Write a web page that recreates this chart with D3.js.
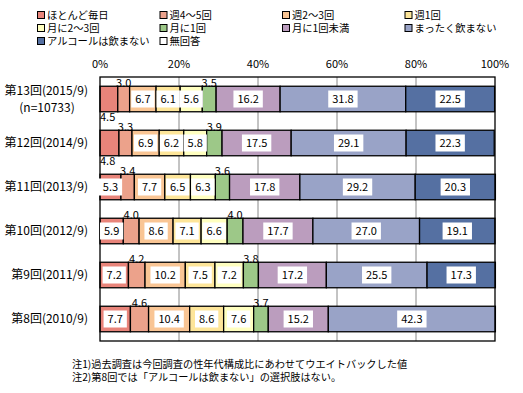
<!DOCTYPE html>
<html lang="ja">
<head>
<meta charset="UTF-8">
<title>飲酒頻度</title>
<script src="https://cdn.jsdelivr.net/npm/d3@7"></script>
<style>
  body { margin: 0; background: #fff; }
  text { font-family: "Noto Sans CJK JP", "Noto Sans", sans-serif; fill: #000; }
</style>
</head>
<body>
<script>
// rounds (rows, top to bottom)
var rounds = ["第13回(2015/9)", "第12回(2014/9)", "第11回(2013/9)", "第10回(2012/9)", "第9回(2011/9)", "第8回(2010/9)"];
var subLabels = ["(n=10733)", "", "", "", "", ""];

// answer categories (legend order)
var categories = ["ほとんど毎日", "週4～5回", "週2～3回", "週1回", "月に2～3回", "月に1回",
  "月に1回未満", "まったく飲まない", "アルコールは飲まない", "無回答"];
var colors = ["#E8847A", "#ECA28B", "#F9C594", "#FDE599", "#FFFFC0", "#9DC888",
  "#BB9DBE", "#99A3C7", "#5570A2", "#FFFFFF"];

// values (%) per category, one per round
var almostDaily  = [4.5, 4.8, 5.3, 5.9, 7.2, 7.7];
var week4to5     = [3.0, 3.3, 3.4, 4.0, 4.2, 4.6];
var week2to3     = [6.7, 6.9, 7.7, 8.6, 10.2, 10.4];
var week1        = [6.1, 6.2, 6.5, 7.1, 7.5, 8.6];
var month2to3    = [5.6, 5.8, 6.3, 6.6, 7.2, 7.6];
var month1       = [3.5, 3.9, 3.6, 4.0, 3.8, 3.7];
var lessMonth1   = [16.2, 17.5, 17.8, 17.7, 17.2, 15.2];
var neverDrink   = [31.8, 29.1, 29.2, 27.0, 25.5, 42.3];
var noAlcohol    = [22.5, 22.3, 20.3, 19.1, 17.3, 0];
var noAnswer     = [0, 0, 0, 0, 0, 0];

var tickValues = [0, 20, 40, 60, 80, 100];
var notes = ["注1)過去調査は今回調査の性年代構成比にあわせてウエイトバックした値",
  "注2)第8回では「アルコールは飲まない」の選択肢はない。"];

var series = [almostDaily, week4to5, week2to3, week1, month2to3, month1, lessMonth1, neverDrink, noAlcohol, noAnswer];

var width = 523, height = 393;
var plotL = 100, plotR = 495, plotT = 77, plotB = 341;

var svg = d3.select("body").append("svg")
  .attr("width", width)
  .attr("height", height);

// legend
var legend = svg.append("g");
categories.forEach(function (c, i) {
  var col = i % 4, row = Math.floor(i / 4);
  var g = legend.append("g").attr("transform", "translate(" + (37 + col * 122.5) + "," + (15 + row * 13) + ")");
  g.append("rect").attr("x", 0.5).attr("y", -3.5).attr("width", 7).attr("height", 7)
    .attr("fill", colors[i]).attr("stroke", "#000").attr("stroke-width", 1);
  g.append("text").attr("x", 10).attr("y", 0).attr("dy", "0.35em")
    .attr("font-size", 10.3).text(c);
});

var x = d3.scaleLinear().domain([0, 100]).range([plotL, plotR]);
var y = d3.scaleBand().domain(rounds).range([plotT, plotB]).paddingInner(0.42).paddingOuter(0.21);

// gridlines
svg.append("g").selectAll("line").data(tickValues.slice(1, -1)).join("line")
  .attr("x1", d => x(d)).attr("x2", d => x(d))
  .attr("y1", plotT).attr("y2", plotB)
  .attr("stroke", "#888").attr("stroke-width", 1);

// tick labels
svg.append("g").selectAll("text").data(tickValues).join("text")
  .attr("x", d => x(d)).attr("y", 64).attr("dy", "0.35em")
  .attr("text-anchor", "middle").attr("font-size", 11)
  .text(d => d + "%");

// stacked segments
var stackData = rounds.map(function (r, ri) {
  var acc = 0;
  return series.map(function (s, si) {
    var seg = {round: r, ri: ri, si: si, v: s[ri], x0: acc, x1: acc + s[ri]};
    acc += s[ri];
    return seg;
  }).filter(d => d.v > 0);
});
var segs = stackData.flat();

svg.append("g").selectAll("rect").data(segs).join("rect")
  .attr("x", d => x(d.x0)).attr("y", d => y(d.round))
  .attr("width", d => x(d.x1) - x(d.x0)).attr("height", y.bandwidth())
  .attr("fill", d => colors[d.si])
  .attr("stroke", "#000").attr("stroke-width", 1.3);

// plot frame
svg.append("rect").attr("x", plotL).attr("y", plotT)
  .attr("width", plotR - plotL).attr("height", plotB - plotT)
  .attr("fill", "none").attr("stroke", "#000").attr("stroke-width", 1.3);

// value labels
var inside = segs.filter(d => d.v >= 5);
var outside = segs.filter(d => d.v < 5);

var lab = svg.append("g").selectAll("g").data(inside).join("g")
  .attr("transform", d => "translate(" + x((d.x0 + d.x1) / 2) + "," + (y(d.round) + y.bandwidth() / 2) + ")");
lab.append("text").attr("text-anchor", "middle").attr("dy", "0.35em").attr("font-size", 11)
  .text(d => d.v.toFixed(1))
  .each(function (d) { d.w = this.getComputedTextLength(); });
lab.insert("rect", "text")
  .attr("x", d => -d.w / 2 - 4).attr("y", -8.5)
  .attr("width", d => d.w + 8).attr("height", 17)
  .attr("fill", "#fff");

svg.append("g").selectAll("text").data(outside).join("text")
  .attr("x", d => d.si === 0 ? x(d.x0) : x((d.x0 + d.x1) / 2))
  .attr("text-anchor", d => d.si === 0 ? "start" : "middle")
  .attr("y", d => d.si === 0 ? y(d.round) + y.bandwidth() + 5 : y(d.round) - 3)
  .attr("dy", "0.35em").attr("font-size", 11)
  .text(d => d.v.toFixed(1));

// round labels
rounds.forEach(function (r, i) {
  var cy = y(r) + y.bandwidth() / 2;
  if (subLabels[i]) {
    svg.append("text").attr("x", 88).attr("y", cy - 8).attr("dy", "0.35em")
      .attr("text-anchor", "end").attr("font-size", 12).text(r);
    svg.append("text").attr("x", 47).attr("y", cy + 9).attr("dy", "0.35em")
      .attr("text-anchor", "middle").attr("font-size", 12).text(subLabels[i]);
  } else {
    svg.append("text").attr("x", 88).attr("y", cy).attr("dy", "0.35em")
      .attr("text-anchor", "end").attr("font-size", 12).text(r);
  }
});

// notes
notes.forEach(function (n, i) {
  svg.append("text").attr("x", 72).attr("y", 364 + i * 13.5).attr("dy", "0.35em")
    .attr("font-size", 10.2).text(n);
});
</script>
</body>
</html>
